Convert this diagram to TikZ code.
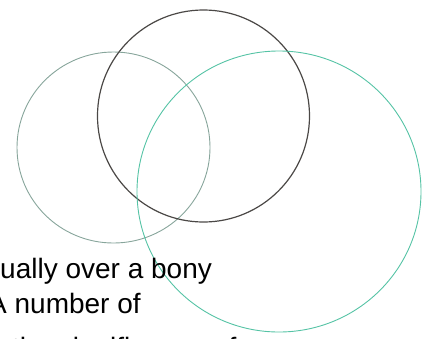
\documentclass[tikz,border=0pt]{standalone}
\usepackage{fontspec}
\setmainfont{Liberation Sans}
\usepackage{xcolor}
\usetikzlibrary{positioning}

\definecolor{ringgrey}{RGB}{135,165,155}
\definecolor{ringdark}{RGB}{75,72,70}
\definecolor{ringteal}{RGB}{85,195,165}

\begin{document}
\begin{tikzpicture}[
    x=1pt, y=-1pt,
    ring/.style={line width=0.9pt},
    line/.style={inner sep=0pt, anchor=base west, font=\fontsize{28}{34}\selectfont}
]
\useasboundingbox (0,0) rectangle (425,338);
\clip (0,0) rectangle (425,338);

% the three rings
\draw[ring, ringgrey] (113.5,147.5) ellipse [x radius=96.5, y radius=95.5];
\draw[ring, ringdark, line width=1.2pt] (203.5,116) circle [radius=106];
\draw[ring, ringteal] (279,191.5) ellipse [x radius=142, y radius=140.5];

% text cut by the edge
\node[line] (l1) at (0,278) {ually over a bony};
\node[line] (l2) at (-12,313) {A number of};
\node[line] (l3) at (12,357) {the significance of};
\end{tikzpicture}
\end{document}
